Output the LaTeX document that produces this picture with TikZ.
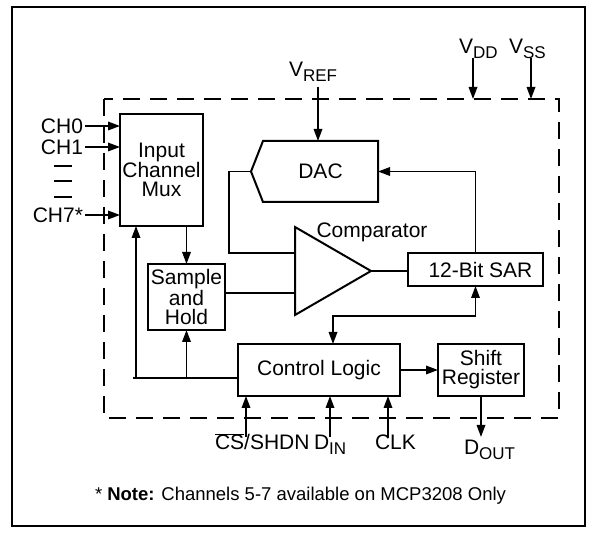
\documentclass[tikz,border=0pt]{standalone}
\usepackage{fontspec}
\setmainfont{Liberation Sans}
\usetikzlibrary{arrows.meta}
\newcommand{\sbs}[1]{\raisebox{-4.5pt}{\fontsize{17}{17}\selectfont #1}}
\begin{document}
\begin{tikzpicture}[x=1pt,y=-1pt,
  every node/.style={font=\fontsize{21}{19}\selectfont},
  blk/.style={draw, line width=2pt, align=center, inner sep=0pt, outer sep=0pt},
  lbl/.style={inner sep=0pt, outer sep=2pt},
  conn/.style={line width=1.7pt},
  arr/.style={conn, -{Triangle[length=12pt,width=8.5pt]}},
  barr/.style={conn, {Triangle[length=12pt,width=8.5pt]}-{Triangle[length=12pt,width=8.5pt]}},
  frame/.style={line width=2pt},
  chip/.style={line width=2pt, dash pattern=on 17pt off 10pt},
  outline/.style={line width=2pt, line join=miter}]
\useasboundingbox (0,0) rectangle (598,534);
\draw[frame] (12,7) rectangle (585,526);
\draw[chip] (104,99) rectangle (559,418);

% blocks
\node[blk, minimum width=83pt, minimum height=112pt] (mux) at (161.5,170) {Input\\Channel\\Mux};
\node[inner sep=0pt, outer sep=0pt, minimum width=115pt, minimum height=61pt] (dac) at (320.5,171.5) {DAC};
\coordinate (dacpt) at (251,171.5);
\draw[outline] (dac.north west) -- (dac.north east) -- (dac.south east) -- (dac.south west) -- (dacpt) -- cycle;
\coordinate (ctl) at (295,227);
\coordinate (cbl) at (295,315);
\coordinate (cout) at (371,271);
\coordinate (cin1) at (295,253);
\coordinate (cin2) at (295,293);
\draw[outline] (ctl) -- (cout) -- (cbl) -- cycle;
\node[lbl] (comptxt) at (372,232) {Comparator};
\node[blk, minimum width=135pt, minimum height=33pt] (sar) at (475.5,269.5) {\hspace*{10pt}12-Bit SAR};
\node[blk, minimum width=77pt, minimum height=66pt] (sh) at (186.5,297) {Sample\\and\\Hold};
\node[blk, minimum width=162pt, minimum height=52pt] (ctrl) at (319,370) {Control Logic};
\node[blk, minimum width=86pt, minimum height=52pt] (shreg) at (481,370) {Shift\\Register};

% channel inputs
\node[lbl, anchor=east] (ch0) at (85,126) {CH0};
\node[lbl, anchor=east] (ch1) at (85,147) {CH1};
\node[lbl, anchor=east] (ch7) at (85,215) {CH7*};
\draw[arr] (ch0) -- (ch0 -| mux.west);
\draw[arr] (ch1) -- (ch1 -| mux.west);
\draw[arr] (ch7) -- (ch7 -| mux.west);
\draw[line width=2pt] (54,166) -- (72,166);
\draw[line width=2pt] (54,181) -- (72,181);
\draw[line width=2pt] (54,197) -- (72,197);

% internal connections
\draw[arr] (mux.south -| sh.north) -- (sh.north);
\draw[conn] (sh.east |- cin2) -- (cin2);
\coordinate (fbk) at (229,253);
\draw[conn] (dacpt) -| (fbk) -- (cin1);
\draw[conn] (cout) -- (cout -| sar.west);
\draw[arr] (sar.north) |- (dac.east);
\coordinate (bus) at (333,316);
\draw[barr] (sar.south) |- (bus) -- (bus |- ctrl.north);
\draw[arr] (ctrl.east) -- (shreg.west);
\coordinate (fbl) at (136,378);
\coordinate (fbend) at (133,378);
\draw[conn] (ctrl.west |- fbl) -- (fbend);
\draw[arr] (fbl) -- (fbl |- mux.south);
\draw[arr] (sh.south |- fbl) -- (sh.south);

% supply / reference
\node[lbl, anchor=base west] (vref) at (287,77) {V\sbs{REF}};
\node[lbl, anchor=base west] (vdd) at (457,54) {V\sbs{DD}};
\node[lbl, anchor=base west] (vss) at (507,54) {V\sbs{SS}};
\coordinate (pvref) at (318,87);
\coordinate (pvdd) at (473,58);
\coordinate (pvss) at (531,58);
\coordinate (cvdd) at (473,99);
\coordinate (cvss) at (531,99);
\draw[arr] (pvref) -- (pvref |- dac.north);
\draw[arr] (pvdd) -- (cvdd);
\draw[arr] (pvss) -- (cvss);

% control inputs
\node[lbl, anchor=base west] (cs) at (213,450) {\rlap{\rule[15pt]{29pt}{1.3pt}}CS/SHDN};
\node[lbl, anchor=base west] (din) at (312,450) {D\sbs{IN}};
\node[lbl, anchor=base west] (clk) at (373,450) {CLK};
\node[lbl, anchor=base west] (dout) at (462,455) {D\sbs{OUT}};
\coordinate (pcs) at (246,437);
\coordinate (pdin) at (330,437);
\coordinate (pclk) at (388,437);
\coordinate (pdout) at (481,437);
\draw[arr] (pcs) -- (pcs |- ctrl.south);
\draw[arr] (pdin) -- (pdin |- ctrl.south);
\draw[arr] (pclk) -- (pclk |- ctrl.south);
\draw[arr] (shreg.south) -- (pdout);

% note
\node[lbl, anchor=base west, font=\fontsize{18.5}{20}\selectfont] (note) at (93,501) {* \textbf{Note:} Channels 5-7 available on MCP3208 Only};
\end{tikzpicture}
\end{document}
